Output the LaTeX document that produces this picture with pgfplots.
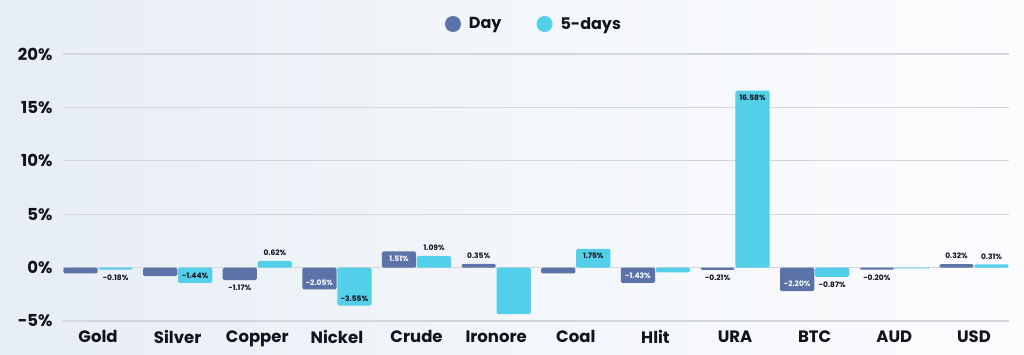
\documentclass[border=0pt]{standalone}
\usepackage{fontspec}
\setmainfont{Poppins}
\usepackage{pgfplots}
\pgfplotsset{compat=1.18}
\definecolor{daycol}{RGB}{91,115,168}
\definecolor{fivecol}{RGB}{82,208,234}
\definecolor{bgL}{RGB}{230,237,244}
\definecolor{bgR}{RGB}{251,252,254}
\definecolor{txt}{RGB}{18,18,28}
\definecolor{gridc}{RGB}{210,213,218}
\pgfplotsset{
  lbl/.style={draw=none, fill=none, forget plot,
    point meta=y,
    nodes near coords={\pgfmathprintnumber[fixed,fixed zerofill,precision=2,assume math mode=true]{\pgfplotspointmeta}\%},
    nodes near coords align={center},
    visualization depends on={value \thisrow{off} \as \myoff},
    every node near coord/.append style={yshift=\myoff bp, text=#1, inner sep=0pt,
      font=\fontsize{7.5bp}{9bp}\selectfont\bfseries}},
}
\begin{document}
\begin{tikzpicture}
\path[use as bounding box] (0,0) rectangle (1024bp,355bp);
\shade[left color=bgL, right color=bgR, middle color=bgR!60!bgL] (0,0) rectangle (1024bp,355bp);
\begin{axis}[
  at={(63bp,34bp)}, anchor=south west,
  scale only axis, width=946bp, height=267bp,
  xmin=-0.44, xmax=11.44, ymin=-5, ymax=20,
  ybar, bar width=0.43,
  xtick={0,...,11},
  xticklabels={Gold,Silver,Copper,Nickel,Crude,Ironore,Coal,Hlit,URA,BTC,AUD,USD},
  ytick={-5,0,5,10,15,20},
  yticklabels={-5\%,0\%,5\%,10\%,15\%,20\%},
  axis line style={draw=none}, major tick length=0pt,
  ymajorgrids, grid style={gridc, line width=1.3bp},
  tick label style={font=\fontsize{16.5bp}{18bp}\selectfont\bfseries, text=txt},
  yticklabel style={xshift=-7bp},
  xticklabel style={yshift=-6bp},
  legend columns=2,
  legend style={at={(0.5,1)}, anchor=center, yshift=30bp, xshift=-2bp, draw=none, fill=none,
    font=\fontsize{16bp}{18bp}\selectfont\bfseries, text=txt,
    /tikz/every even column/.append style={column sep=33bp}},
  legend image code/.code={\fill[#1] (0bp,0bp) circle (8bp); \path (14bp,0bp);},
]
\addplot[fill=daycol, draw=none, bar shift=-0.22, rounded corners=1.5bp] table[x=x,y=y] {
x y
0 -0.55
1 -0.80
2 -1.17
3 -2.05
4 1.51
5 0.35
6 -0.55
7 -1.43
8 -0.21
9 -2.20
10 -0.20
11 0.32
};
\addlegendentry{Day}
\addplot[fill=fivecol, draw=none, bar shift=0.22, rounded corners=1.5bp] table[x=x,y=y] {
x y
0 -0.18
1 -1.44
2 0.62
3 -3.55
4 1.09
5 -4.35
6 1.75
7 -0.45
8 16.58
9 -0.87
10 -0.07
11 0.31
};
\addlegendentry{5-days}
% Day labels, dark (outside)
\addplot[lbl=txt, bar shift=-0.22] table[x=x,y=y] {
x y off
2 -1.17 -8
5 0.35 8
8 -0.21 -8
10 -0.20 -8
11 0.32 8
};
% Day labels, white (inside)
\addplot[lbl=white, bar shift=-0.22] table[x=x,y=y] {
x y off
3 -2.05 7
4 1.51 -7
7 -1.43 7
9 -2.20 7
};
% 5-days labels (outside and inside), dark
\addplot[lbl=txt, bar shift=0.22] table[x=x,y=y] {
x y off
0 -0.18 -8
1 -1.44 7
2 0.62 8
3 -3.55 7
4 1.09 8
6 1.75 -7
8 16.58 -7
9 -0.87 -8
11 0.31 8
};
\end{axis}
\end{tikzpicture}
\end{document}
